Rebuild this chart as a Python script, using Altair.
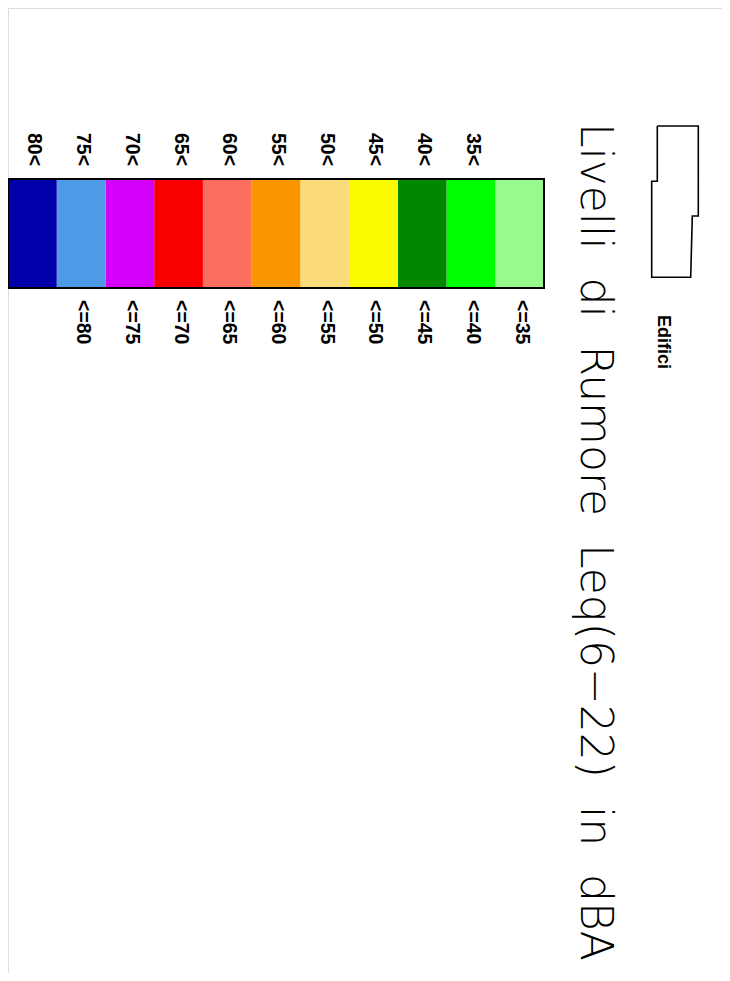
import altair as alt
import pandas as pd

# ---- data ----
band_lo = [30, 35, 40, 45, 50, 55, 60, 65, 70, 75, 80]
band_hi = [35, 40, 45, 50, 55, 60, 65, 70, 75, 80, 85]
lower_labels = ["", "35<", "40<", "45<", "50<", "55<", "60<", "65<", "70<", "75<", "80<"]
upper_labels = ["<=35", "<=40", "<=45", "<=50", "<=55", "<=60", "<=65", "<=70", "<=75", "<=80", ""]
band_colors = ["#96FA8C", "#00FF00", "#008800", "#FAFA00", "#FCDC78", "#FA9600",
               "#FC6E5E", "#F80000", "#D500FA", "#4D9BE6", "#0000AA"]
title_words = ["Livelli", "di", "Rumore", "Leq(6\u221222)", "in", "dBA"]
legend_label = "Edifici"
# building outline (legend symbol), relative units
bld_x = [5.6, 46.6, 46.6, 40.6, 39.0, 0.0, 0.0, 5.6, 5.6]
bld_y = [0.0, 0.0, 90.0, 90.0, 151.3, 151.3, 55.3, 55.3, 0.0]

bands = pd.DataFrame({
    "lo": band_lo, "hi": band_hi,
    "lower": lower_labels, "upper": upper_labels, "color": band_colors,
})
bands["mid"] = (bands["lo"] + bands["hi"]) / 2

bld = pd.DataFrame({"bx": bld_x, "by": bld_y, "i": list(range(len(bld_x)))})

xs = alt.Scale(domain=[85, 30], range=[0, 536])

base = alt.Chart(bands)

rects = base.mark_rect().encode(
    x=alt.X("lo:Q", scale=xs, axis=None),
    x2="hi:Q",
    y=alt.value(171),
    y2=alt.value(280),
    color=alt.Color("color:N", scale=None),
)

border = base.mark_rect(fill=None, stroke="black", strokeWidth=2).transform_aggregate(
    lo="min(lo)", hi="max(hi)"
).encode(
    x=alt.X("lo:Q", scale=xs, axis=None),
    x2="hi:Q",
    y=alt.value(171),
    y2=alt.value(280),
)

lab_font = "Liberation Sans"
lower_txt = base.mark_text(
    angle=90, align="left", baseline="middle", font=lab_font,
    fontSize=19.5, fontWeight="bold", color="black", dy=-2,
).transform_filter("datum.lower != ''").encode(
    x=alt.X("mid:Q", scale=xs, axis=None),
    y=alt.value(125),
    text="lower:N",
)

upper_txt = base.mark_text(
    angle=90, align="left", baseline="middle", font=lab_font,
    fontSize=19.5, fontWeight="bold", color="black", dy=-2,
).transform_filter("datum.upper != ''").encode(
    x=alt.X("mid:Q", scale=xs, axis=None),
    y=alt.value(292),
    text="upper:N",
)

title_txt = alt.Chart(pd.DataFrame({"t": ["\u00a0\u00a0".join(title_words)]})).mark_text(
    angle=90, align="left", baseline="middle", font="DejaVu Sans", fontWeight=200,
    fontSize=44, color="black",
).encode(
    x=alt.value(586),
    y=alt.value(115),
    text="t:N",
)

edifici = alt.Chart(pd.DataFrame({"t": [legend_label]})).mark_text(
    angle=90, align="left", baseline="middle", font=lab_font,
    fontSize=18, fontWeight="bold", color="black",
).encode(
    x=alt.value(655),
    y=alt.value(307),
    text="t:N",
)

building = alt.Chart(bld).mark_line(color="black", strokeWidth=1.6).encode(
    x=alt.X("bx:Q", scale=alt.Scale(domain=[0, 46.6], range=[643.7, 690.3]), axis=None),
    y=alt.Y("by:Q", scale=alt.Scale(domain=[0, 151.3], range=[118, 269.3]), axis=None),
    order="i:O",
)

chart = alt.layer(
    rects, border, lower_txt, upper_txt, title_txt, edifici, building
).resolve_scale(x="independent", y="independent").properties(
    width=714, height=965, padding=0,
    autosize=alt.AutoSizeParams(type="none"),
).configure_view(stroke=None).configure(background="white")

chart.save("out.html", embed_options={"renderer": "svg", "actions": False})
